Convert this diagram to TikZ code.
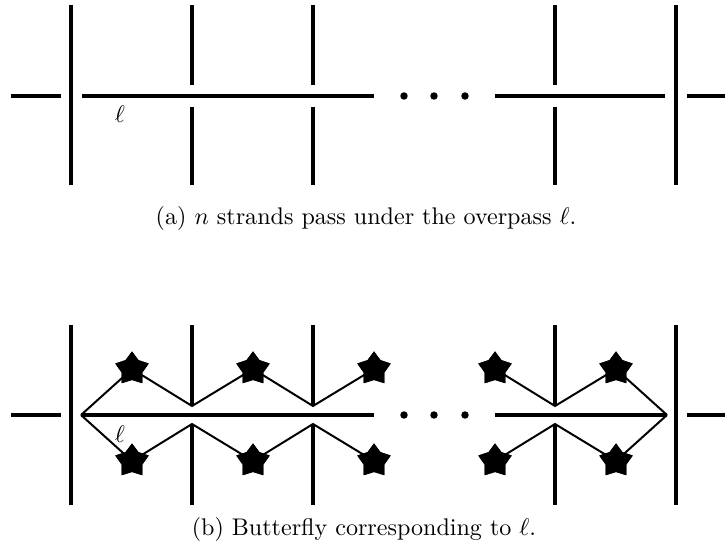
\documentclass[tikz,border=0pt]{standalone}
\usetikzlibrary{shapes.geometric}
\begin{document}
\begin{tikzpicture}[
  x=0.455pt, y=-0.455pt,
  every node/.style={font=\fontsize{10.95}{13.6}\selectfont},
  strand/.style={line width=1.8pt},
  wing/.style={line width=0.9pt},
  bstar/.style={star, star points=5, star point ratio=1.6, fill=black, minimum size=16pt, inner sep=0pt},
  dotnode/.style={circle, fill=black, minimum size=3.4pt, inner sep=0pt},
]
  \useasboundingbox (0,0) rectangle (725,552);

  % (a) overpass
  \coordinate (aL) at (11,96);
  \coordinate (aLe) at (61,96);
  \coordinate (aS) at (82,96);
  \coordinate (aE) at (374,96);
  \coordinate (aS2) at (495,96);
  \coordinate (aE2) at (665,96);
  \coordinate (aR) at (687,96);
  \coordinate (aRe) at (725,96);
  \draw[strand] (aL) -- (aLe);
  \draw[strand] (aS) -- (aE);
  \draw[strand] (aS2) -- (aE2);
  \draw[strand] (aR) -- (aRe);
  \draw[strand] (71,5) -- (71,185);
  \draw[strand] (676,5) -- (676,185);
  \foreach \x in {192,313,555} {
    \draw[strand] (\x,5) -- (\x,85);
    \draw[strand] (\x,107) -- (\x,185);
  }
  \foreach \x [count=\i] in {404,434,465}
    \node[dotnode] (adot\i) at (\x,96) {};
  \node (aell) at (120,114) {$\ell$};
  \node[anchor=base] (acap) at (366,225) {(a) $n$ strands pass under the overpass $\ell$.};

  % (b) butterfly
  \coordinate (bL) at (11,415);
  \coordinate (bLe) at (61,415);
  \coordinate (bA) at (81,415);
  \coordinate (bE) at (374,415);
  \coordinate (bS2) at (495,415);
  \coordinate (bB) at (667,415);
  \coordinate (bR) at (687,415);
  \coordinate (bRe) at (725,415);
  \draw[strand] (bL) -- (bLe);
  \draw[strand] (bA) -- (bE);
  \draw[strand] (bS2) -- (bB);
  \draw[strand] (bR) -- (bRe);
  \draw[strand] (71,325) -- (71,505);
  \draw[strand] (676,325) -- (676,505);
  \foreach \x [count=\i] in {192,313,555} {
    \coordinate (up\i) at (\x,406);
    \coordinate (dn\i) at (\x,424);
    \draw[strand] (\x,325) -- (up\i);
    \draw[strand] (dn\i) -- (\x,505);
  }
  \foreach \x [count=\i] in {404,434,465}
    \node[dotnode] (bdot\i) at (\x,415) {};

  % stars
  \foreach \x [count=\i] in {132,253,374,495,616} {
    \node[bstar] (st\i) at (\x,369) {};
    \node[bstar] (sb\i) at (\x,461) {};
  }

  % wings
  \draw[wing] (bA) -- (st1.center) -- (up1) -- (st2.center) -- (up2) -- (st3.center);
  \draw[wing] (bA) -- (sb1.center) -- (dn1) -- (sb2.center) -- (dn2) -- (sb3.center);
  \draw[wing] (st4.center) -- (up3) -- (st5.center) -- (bB);
  \draw[wing] (sb4.center) -- (dn3) -- (sb5.center) -- (bB);
  \foreach \i in {1,...,5} {
    \node[bstar] at (st\i) {};
    \node[bstar] at (sb\i) {};
  }
  \node (bell) at (120,434) {$\ell$};
  \node[anchor=base] (bcap) at (364,535) {(b) Butterfly corresponding to $\ell$.};
\end{tikzpicture}
\end{document}
